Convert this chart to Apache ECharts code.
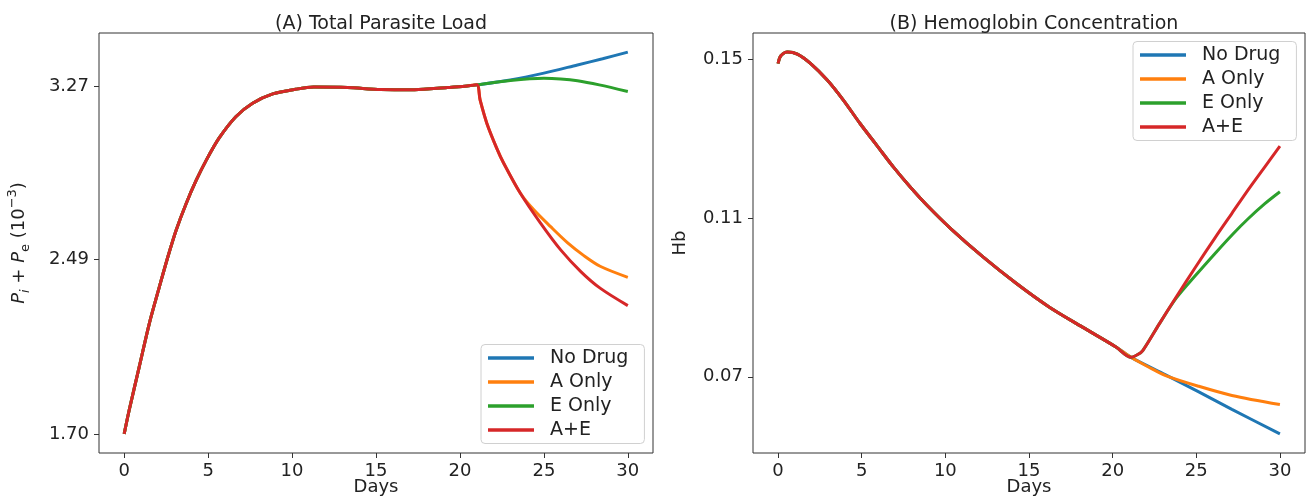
<!DOCTYPE html>
<html>
<head>
<meta charset="utf-8">
<script src="https://cdn.jsdelivr.net/npm/echarts@6/dist/echarts.min.js"></script>
<style>
html,body{margin:0;padding:0;background:#fff;}
#chart{width:1309px;height:497px;}
</style>
</head>
<body>
<div id="chart"></div>
<script>
// ---------- data ----------
const seriesNames = ['No Drug', 'A Only', 'E Only', 'A+E'];
const seriesColors = ['#1f77b4', '#ff7f0e', '#2ca02c', '#d62728'];
const dayTicks = [0, 5, 10, 15, 20, 25, 30];
const loadTicks = [1.70, 2.49, 3.27];
const hbTicks = [0.07, 0.11, 0.15];

// (A) Total parasite load, shared part before treatment (day 0 - 21)
const commonLoadDays = [0, 0.3, 0.9, 1.5, 2.1, 2.6, 3.1, 3.7, 4.3, 4.9, 5.65, 6.65, 7.65, 8.85, 10.2, 11.3, 13.3, 15.3, 17.3, 19.25, 20.3, 21];
const commonLoad = [1.700, 1.808, 2.004, 2.200, 2.366, 2.500, 2.622, 2.743, 2.848, 2.939, 3.037, 3.134, 3.195, 3.237, 3.258, 3.268, 3.266, 3.257, 3.256, 3.266, 3.272, 3.278];
// after treatment (from day 21)
const noDrugLoadDays = [21, 23, 25, 27, 28.5, 30];
const noDrugLoad = [3.278, 3.300, 3.331, 3.368, 3.396, 3.426];
const aOnlyLoadDays = [21, 21.2, 21.6, 22.2, 22.6, 23.6, 24.4, 25.4, 26.4, 27.4, 28.35, 30];
const aOnlyLoad = [3.278, 3.21, 3.105, 2.99, 2.925, 2.788, 2.713, 2.637, 2.565, 2.505, 2.458, 2.408];
const eOnlyLoadDays = [21, 23, 25, 26, 27, 28.3, 30];
const eOnlyLoad = [3.278, 3.298, 3.308, 3.305, 3.297, 3.278, 3.248];
const aeLoadDays = [21, 21.2, 21.6, 22.2, 22.6, 23.6, 24.8, 26, 27.2, 28.35, 30];
const aeLoad = [3.278, 3.21, 3.105, 2.99, 2.925, 2.788, 2.653, 2.532, 2.434, 2.359, 2.280];

// (B) Hemoglobin, shared part before treatment
const commonHbDays = [0, 0.1, 0.3, 0.55, 1.15, 1.95, 2.95, 3.9, 4.9, 5.9, 6.9, 7.9, 8.9, 10.3, 12.25, 14.25, 16.2, 18.2, 20.2, 21.1];
const commonHb = [0.1489, 0.1504, 0.1514, 0.1518, 0.1513, 0.1489, 0.1447, 0.1397, 0.1338, 0.1283, 0.1228, 0.1178, 0.1132, 0.1074, 0.1002, 0.0935, 0.0876, 0.0825, 0.0775, 0.0749];
const noDrugHbDays = [21.1, 23.17, 25.15, 27.13, 30];
const noDrugHb = [0.0749, 0.0705, 0.0662, 0.0618, 0.0556];
const aOnlyHbDays = [21.1, 22.17, 23.17, 25.15, 27.13, 30];
const aOnlyHb = [0.0749, 0.0724, 0.0703, 0.0676, 0.0653, 0.0630];
const eOnlyHbDays = [21.1, 21.5, 21.8, 22.8, 23.8, 24.95, 26.15, 27.15, 28.1, 29.1, 30];
const eOnlyHb = [0.0749, 0.0756, 0.0766, 0.0834, 0.0898, 0.0955, 0.1012, 0.1058, 0.1098, 0.1136, 0.1166];
const aeHbDays = [21.1, 21.5, 21.8, 22.8, 23.8, 24.95, 26.15, 27.15, 28.1, 29.1, 30];
const aeHb = [0.0749, 0.0756, 0.0766, 0.0834, 0.0901, 0.0976, 0.1052, 0.1113, 0.1171, 0.1229, 0.1281];

// ---------- build ----------
function joinCurve(cd, cv, td, tv) {
  const xs = cd.concat(td.slice(1));
  const ys = cv.concat(tv.slice(1));
  return xs.map((x, i) => [x, ys[i]]);
}
const loadTails = [[noDrugLoadDays, noDrugLoad], [aOnlyLoadDays, aOnlyLoad], [eOnlyLoadDays, eOnlyLoad], [aeLoadDays, aeLoad]];
const hbTails = [[noDrugHbDays, noDrugHb], [aOnlyHbDays, aOnlyHb], [eOnlyHbDays, eOnlyHb], [aeHbDays, aeHb]];

const FONT = 'DejaVu Sans';
const AX = '#333';
const TXT = '#222';

function xAxisDef(gi) {
  return {
    type: 'value', gridIndex: gi, min: -1.5, max: 31.5,
    axisLine: { show: false, onZero: false },
    axisTick: { show: true, length: 5, customValues: dayTicks, lineStyle: { color: AX, width: 1 } },
    axisLabel: { customValues: dayTicks, fontFamily: FONT, fontSize: 18, color: TXT, margin: 9 },
    splitLine: { show: false },
    name: 'Days', nameLocation: 'middle', nameGap: 25, nameMoveOverlap: false,
    nameTextStyle: { fontFamily: FONT, fontSize: 18, color: TXT }
  };
}
function yAxisDef(gi, min, max, ticks, digits, name, nameGap, rich) {
  const a = {
    type: 'value', gridIndex: gi, min: min, max: max,
    axisLine: { show: false, onZero: false },
    axisTick: { show: true, length: 5, customValues: ticks, lineStyle: { color: AX, width: 1 } },
    axisLabel: { customValues: ticks, fontFamily: FONT, fontSize: 18, color: TXT, margin: 10,
      formatter: v => v.toFixed(digits) },
    splitLine: { show: false },
    name: name, nameLocation: 'middle', nameGap: nameGap, nameRotate: 90, nameMoveOverlap: false,
    nameTextStyle: { fontFamily: FONT, fontSize: 18, color: TXT }
  };
  if (rich) a.nameTextStyle.rich = rich;
  return a;
}

const series = [];
seriesNames.forEach((n, i) => {
  series.push({
    name: n, type: 'line', xAxisIndex: 0, yAxisIndex: 0,
    data: joinCurve(commonLoadDays, commonLoad, loadTails[i][0], loadTails[i][1]),
    symbol: 'none', showSymbol: false, smooth: 0.3,
    lineStyle: { width: 3, color: seriesColors[i] }, itemStyle: { color: seriesColors[i] },
    z: 2 + i, animation: false
  });
});
seriesNames.forEach((n, i) => {
  series.push({
    name: n, type: 'line', xAxisIndex: 1, yAxisIndex: 1,
    data: joinCurve(commonHbDays, commonHb, hbTails[i][0], hbTails[i][1]),
    symbol: 'none', showSymbol: false, smooth: 0.3,
    lineStyle: { width: 3, color: seriesColors[i] }, itemStyle: { color: seriesColors[i] },
    z: 2 + i, animation: false
  });
});

function legendDef(left, top) {
  return {
    orient: 'vertical', left: left, top: top,
    data: seriesNames, icon: 'rect',
    itemWidth: 46, itemHeight: 3.5, itemGap: 4,
    padding: [3.5, 16, 3.5, 7],
    backgroundColor: 'rgba(255,255,255,0.85)',
    borderColor: '#d0d0d0', borderWidth: 1, borderRadius: 4,
    textStyle: { fontFamily: FONT, fontSize: 19, color: TXT, lineHeight: 20, padding: [0, 0, 0, 11] },
    selectedMode: false
  };
}

const rich = {
  i: { fontFamily: FONT, fontStyle: 'italic', fontSize: 18, color: TXT, lineHeight: 26, verticalAlign: 'middle' },
  sub: { fontFamily: FONT, fontStyle: 'italic', fontSize: 13, color: TXT, lineHeight: 26, verticalAlign: 'bottom' },
  sube: { fontFamily: FONT, fontSize: 13, color: TXT, lineHeight: 26, verticalAlign: 'bottom' },
  n: { fontFamily: FONT, fontSize: 18, color: TXT, lineHeight: 26, verticalAlign: 'middle' },
  sup: { fontFamily: FONT, fontSize: 13, color: TXT, lineHeight: 26, verticalAlign: 'top' }
};

const option = {
  backgroundColor: '#ffffff',
  animation: false,
  title: [
    { text: '(A) Total Parasite Load', left: 376, top: 10, textAlign: 'center',
      textStyle: { fontFamily: FONT, fontSize: 19, fontWeight: 'normal', color: TXT } },
    { text: '(B) Hemoglobin Concentration', left: 1029, top: 10, textAlign: 'center',
      textStyle: { fontFamily: FONT, fontSize: 19, fontWeight: 'normal', color: TXT } }
  ],
  grid: [
    { left: 99, top: 33, width: 554, height: 420, show: true, borderColor: AX, borderWidth: 1, backgroundColor: 'transparent', containLabel: false, outerBoundsMode: 'none' },
    { left: 753, top: 33, width: 552, height: 420, show: true, borderColor: AX, borderWidth: 1, backgroundColor: 'transparent', containLabel: false, outerBoundsMode: 'none' }
  ],
  xAxis: [xAxisDef(0), xAxisDef(1)],
  yAxis: [
    yAxisDef(0, 1.6137, 3.5125, loadTicks, 2, '{i|P}{sub|i}{n| + }{i|P}{sube|e}{n| (10}{sup|−3}{n|)}', 67, rich),
    yAxisDef(1, 0.0508, 0.1566, hbTicks, 2, 'Hb', 64)
  ],
  legend: [legendDef(481, 344.5), legendDef(1133, 41.5)],
  series: series
};

const chart = echarts.init(document.getElementById('chart'), null, { renderer: 'canvas' });
chart.setOption(option);
</script>
</body>
</html>
